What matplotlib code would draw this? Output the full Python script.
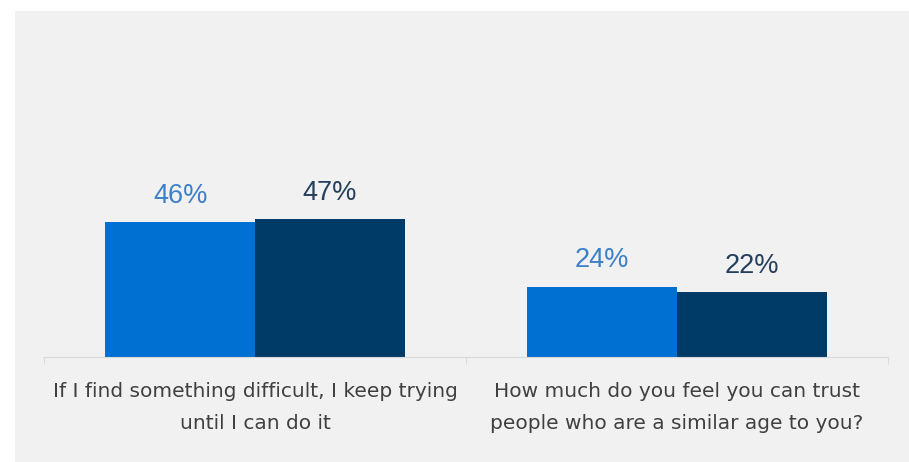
import matplotlib.pyplot as plt
from matplotlib.patches import Rectangle

categories = ['If I find something difficult, I keep trying\nuntil I can do it',
              'How much do you feel you can trust\npeople who are a similar age to you?']
series_a = [46, 24]
series_b = [47, 22]
colors = ['#0070d2', '#003b68']
label_colors = ['#3c80c8', '#253f5c']

W, H = 909, 462
fig = plt.figure(figsize=(W / 100, H / 100), dpi=100)
fig.patches.append(Rectangle((15 / W, 0), 1, 1 - 11 / H, transform=fig.transFigure,
                             facecolor='#f1f1f1', edgecolor='none', zorder=-10))

ax = fig.add_axes([44 / W, 105 / H, 844 / W, 176 / H])
ax.set_facecolor('none')

width = 0.355
x = [0, 1]
bars_a = ax.bar([i - width / 2 for i in x], series_a, width, color=colors[0])
bars_b = ax.bar([i + width / 2 for i in x], series_b, width, color=colors[1])

for bars, vals, c in [(bars_a, series_a, label_colors[0]), (bars_b, series_b, label_colors[1])]:
    for b, v in zip(bars, vals):
        ax.annotate(f'{v}%', (b.get_x() + b.get_width() / 2, v), xytext=(0, 14),
                    textcoords='offset points', ha='center', va='baseline',
                    fontsize=19.5, color=c, family='Liberation Sans')

ax.set_xlim(-0.5, 1.5)
ax.set_ylim(0, 60)
ax.set_yticks([])
for s in ['top', 'right', 'left']:
    ax.spines[s].set_visible(False)
ax.spines['bottom'].set_color('#d9d9d9')

ax.set_xticks(x)
ax.set_xticklabels(categories, fontsize=14.5, color='#404040', family='DejaVu Sans', linespacing=1.85)
ax.tick_params(axis='x', which='major', length=0, pad=18)
ax.set_xticks([-0.5, 0.5, 1.5], minor=True)
ax.tick_params(axis='x', which='minor', length=5, color='#d9d9d9')

fig.savefig('out.png', dpi=100)
